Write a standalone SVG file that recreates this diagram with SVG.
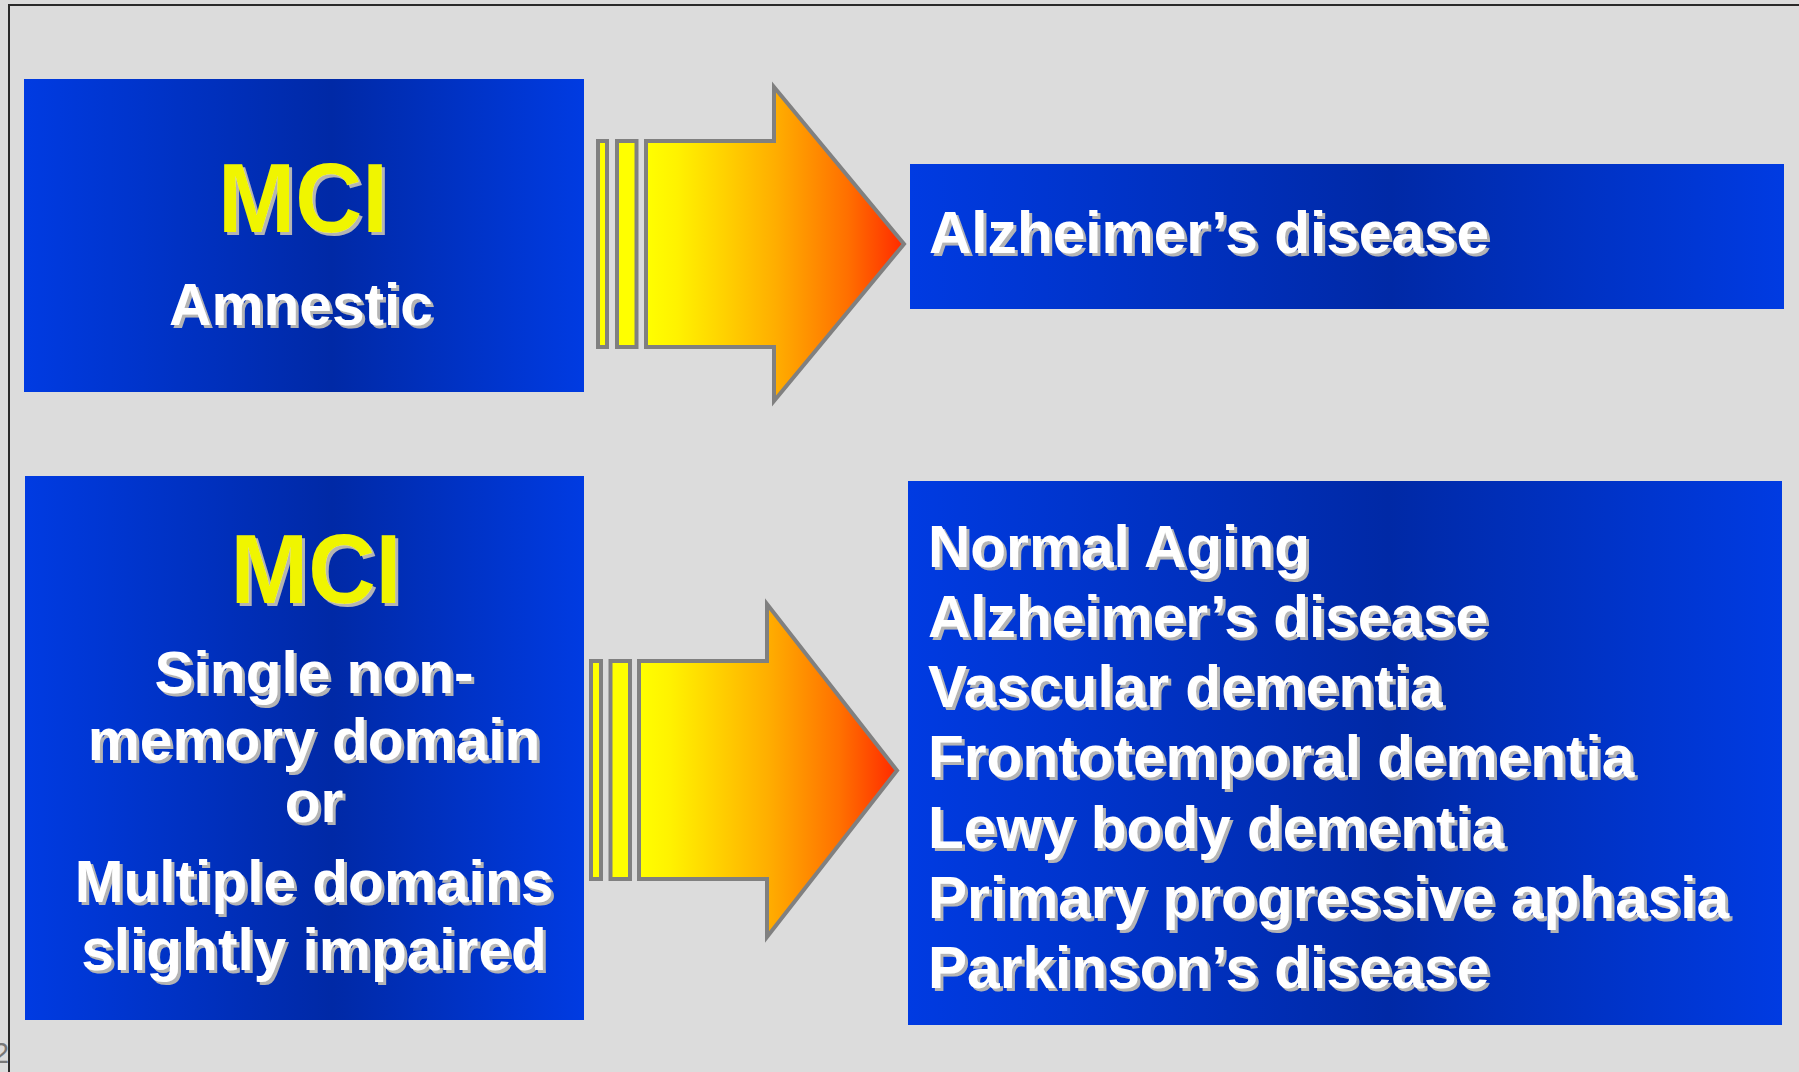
<svg xmlns="http://www.w3.org/2000/svg" width="1799" height="1072" viewBox="0 0 1799 1072">
<style>
  .box { fill: url(#blueGrad); }
  .t { font-family: "Liberation Sans", Arial, sans-serif; font-weight: bold; fill: #ffffff; font-size: 58.6px; filter: url(#shadow); }
  .mci { font-family: "Liberation Sans", Arial, sans-serif; font-weight: bold; fill: #f0f500; font-size: 98px; filter: url(#shadow); }
  .c { text-anchor: middle; }
  .bar { fill: #ffff00; stroke: #808080; stroke-width: 4; }
  .arrow { stroke: #808080; stroke-width: 4; stroke-linejoin: miter; }
</style>
<defs>
  <linearGradient id="blueGrad" x1="0" y1="0" x2="1" y2="0">
    <stop offset="0" stop-color="#003be2"/>
    <stop offset="0.55" stop-color="#0029a6"/>
    <stop offset="1" stop-color="#003be2"/>
  </linearGradient>
  <linearGradient id="arrowGrad" x1="0" y1="0" x2="1" y2="0">
    <stop offset="0" stop-color="#ffff00"/>
    <stop offset="0.12" stop-color="#fff200"/>
    <stop offset="0.5" stop-color="#ffae00"/>
    <stop offset="0.78" stop-color="#ff7000"/>
    <stop offset="1" stop-color="#ff2a00"/>
  </linearGradient>
  <filter id="shadow" x="-10%" y="-20%" width="130%" height="150%">
    <feOffset in="SourceAlpha" dx="3" dy="3" result="off"/>
    <feFlood flood-color="#b4b4b4"/>
    <feComposite in2="off" operator="in" result="sh"/>
    <feMerge>
      <feMergeNode in="sh"/>
      <feMergeNode in="SourceGraphic"/>
    </feMerge>
  </filter>
</defs>

<rect x="0" y="0" width="1799" height="1072" fill="#dcdcdc"/>
<path d="M9,1072 V5 H1799" fill="none" stroke="#2a2a2a" stroke-width="2"/>
<text x="-7" y="1063" font-family="Liberation Sans, Arial, sans-serif" font-size="29" fill="#777777">2</text>

<g id="node-mci-amnestic">
  <rect class="box" x="24" y="79" width="560" height="313"/>
  <text class="mci c" x="303" y="232" textLength="170" lengthAdjust="spacingAndGlyphs">MCI</text>
  <text class="t c" x="301" y="325">Amnestic</text>
</g>

<g id="node-mci-nonmemory">
  <rect class="box" x="25" y="476" width="559" height="544"/>
  <text class="mci c" x="316" y="603" textLength="171" lengthAdjust="spacingAndGlyphs">MCI</text>
  <text class="t c" x="314" y="693">Single non-</text>
  <text class="t c" x="314" y="760">memory domain</text>
  <text class="t c" x="314" y="822">or</text>
  <text class="t c" x="314" y="902">Multiple domains</text>
  <text class="t c" x="314" y="970">slightly impaired</text>
</g>

<g id="node-alzheimers">
  <rect class="box" x="910" y="164" width="874" height="145"/>
  <text class="t" x="929" y="253">Alzheimer’s disease</text>
</g>

<g id="node-outcomes">
  <rect class="box" x="908" y="481" width="874" height="544"/>
  <text class="t" x="928" y="567">Normal Aging</text>
  <text class="t" x="928" y="637">Alzheimer’s disease</text>
  <text class="t" x="928" y="707">Vascular dementia</text>
  <text class="t" x="928" y="777">Frontotemporal dementia</text>
  <text class="t" x="928" y="848">Lewy body dementia</text>
  <text class="t" x="928" y="918">Primary progressive aphasia</text>
  <text class="t" x="928" y="988">Parkinson’s disease</text>
</g>

<g id="connectors">
  <g id="arrow-top">
    <rect class="bar" x="598" y="141" width="9" height="206"/>
    <rect class="bar" x="617" y="141" width="19.5" height="206"/>
    <path class="arrow" fill="url(#arrowGrad)" d="M646,141 L774,141 L774,87 L904,244 L774,401 L774,347 L646,347 Z"/>
  </g>
  <g id="arrow-bottom">
    <rect class="bar" x="591" y="661" width="10" height="218"/>
    <rect class="bar" x="610.5" y="661" width="19.5" height="218"/>
    <path class="arrow" fill="url(#arrowGrad)" d="M639,661 L767,661 L767,604 L897,770.5 L767,937 L767,879 L639,879 Z"/>
  </g>
</g>
</svg>
